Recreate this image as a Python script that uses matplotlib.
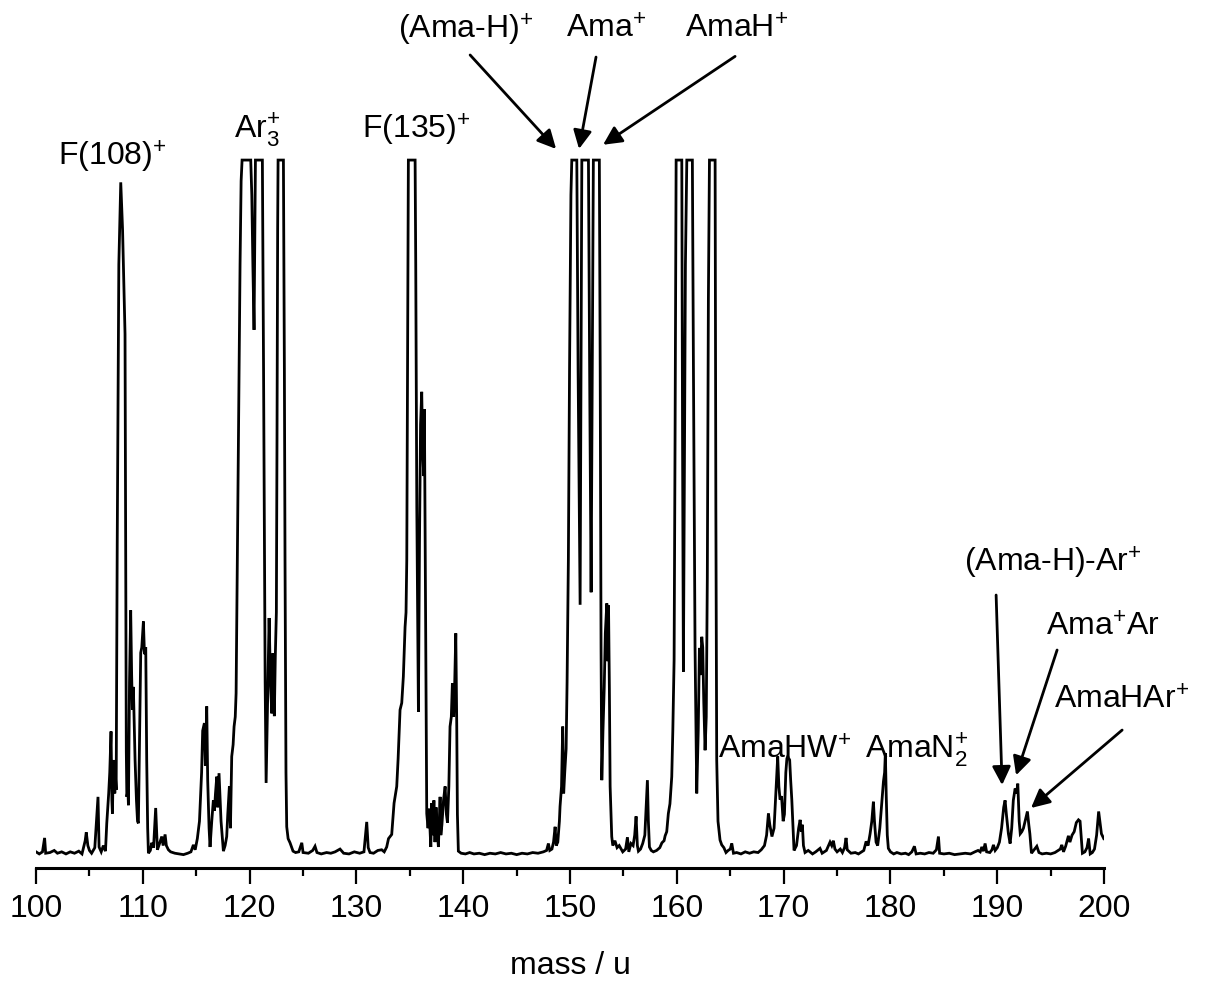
import numpy as np
import matplotlib
matplotlib.use("Agg")
import matplotlib.pyplot as plt

plt.rcParams['font.family'] = ['Liberation Sans', 'DejaVu Sans']
plt.rcParams['mathtext.fontset'] = 'custom'
plt.rcParams['mathtext.rm'] = 'Liberation Sans'
plt.rcParams['mathtext.it'] = 'Liberation Sans'
plt.rcParams['mathtext.bf'] = 'Liberation Sans:bold'

# spectrum (mass in u, signal in % of the clip level)
mass = [
    100.0, 100.3, 100.6, 100.8, 100.9, 101.3, 101.7, 102.0, 102.4, 102.8, 103.2, 103.6,
    104.0, 104.3, 104.6, 104.7, 104.85, 105.0, 105.2, 105.5, 105.8, 105.9, 106.1, 106.3,
    106.5, 106.62, 106.8, 106.9, 107.02, 107.1, 107.15, 107.24, 107.3, 107.37, 107.45, 107.5,
    107.6, 107.75, 107.93, 108.1, 108.25, 108.33, 108.4, 108.45, 108.5, 108.6, 108.65, 108.75,
    108.86, 108.95, 109.02, 109.11, 109.2, 109.27, 109.4, 109.5, 109.58, 109.7, 109.8, 109.9,
    110.05, 110.15, 110.27, 110.36, 110.45, 110.52, 110.7, 110.83, 111.0, 111.2, 111.36, 111.5,
    111.65, 111.77, 111.9, 112.08, 112.2, 112.39, 112.6, 113.0, 113.4, 113.8, 114.2, 114.5,
    114.73, 114.9, 115.1, 115.3, 115.5, 115.6, 115.76, 115.85, 115.98, 116.07, 116.2, 116.29,
    116.45, 116.6, 116.7, 116.8, 116.92, 117.0, 117.13, 117.32, 117.54, 117.7, 117.85, 117.95,
    118.1, 118.2, 118.32, 118.45, 118.54, 118.65, 118.73, 118.85, 118.95, 119.1, 119.2, 119.29,
    120.1, 120.2, 120.3, 120.41, 120.5, 120.54, 121.19, 121.3, 121.45, 121.54, 121.65, 121.82,
    121.95, 122.07, 122.16, 122.31, 122.4, 122.5, 122.56, 122.62, 122.66, 123.16, 123.25, 123.31,
    123.4, 123.47, 123.6, 123.78, 124.06, 124.3, 124.6, 124.88, 125.0, 125.5, 125.9, 126.12,
    126.3, 126.7, 127.2, 127.6, 128.0, 128.46, 128.8, 129.3, 129.8, 130.3, 130.7, 130.96,
    131.1, 131.27, 131.6, 132.0, 132.36, 132.6, 132.83, 133.0, 133.3, 133.52, 133.77, 133.9,
    134.08, 134.24, 134.39, 134.55, 134.64, 134.71, 134.78, 134.86, 135.49, 135.55, 135.65, 135.8,
    135.9, 136.0, 136.11, 136.2, 136.3, 136.36, 136.45, 136.58, 136.7, 136.8, 136.96, 137.05,
    137.15, 137.25, 137.35, 137.45, 137.55, 137.67, 137.83, 137.9, 138.0, 138.15, 138.3, 138.42,
    138.52, 138.65, 138.76, 138.88, 138.98, 139.1, 139.2, 139.3, 139.39, 139.45, 139.54, 139.8,
    140.2, 140.6, 141.0, 141.5, 142.0, 142.5, 143.0, 143.5, 144.0, 144.5, 145.0, 145.5,
    146.0, 146.5, 147.0, 147.5, 147.8, 147.97, 148.1, 148.3, 148.45, 148.6, 148.7, 148.85,
    149.0, 149.06, 149.2, 149.31, 149.4, 149.5, 149.63, 149.72, 149.84, 149.95, 150.08, 150.16,
    150.63, 150.75, 150.94, 151.02, 151.1, 151.72, 151.85, 151.97, 152.08, 152.18, 152.74, 152.82,
    152.9, 152.97, 153.08, 153.2, 153.3, 153.44, 153.52, 153.6, 153.68, 153.75, 153.9, 154.0,
    154.2, 154.4, 154.6, 154.93, 155.2, 155.37, 155.5, 155.7, 155.9, 156.05, 156.18, 156.3,
    156.4, 156.6, 156.8, 157.0, 157.15, 157.24, 157.33, 157.43, 157.6, 157.8, 158.1, 158.4,
    158.6, 158.8, 158.9, 159.05, 159.2, 159.35, 159.52, 159.62, 159.74, 159.83, 159.93, 160.46,
    160.53, 160.61, 160.7, 160.8, 160.93, 161.45, 161.55, 161.7, 161.86, 162.0, 162.11, 162.2,
    162.33, 162.42, 162.52, 162.64, 162.75, 162.85, 162.95, 163.05, 163.58, 163.65, 163.73, 163.85,
    164.04, 164.2, 164.4, 164.6, 164.8, 165.0, 165.14, 165.3, 165.6, 166.0, 166.4, 166.8,
    167.2, 167.6, 167.9, 168.2, 168.4, 168.57, 168.7, 168.9, 169.1, 169.3, 169.44, 169.55,
    169.66, 169.8, 169.95, 170.07, 170.2, 170.3, 170.38, 170.56, 170.65, 170.76, 170.97, 171.2,
    171.4, 171.54, 171.65, 171.75, 171.85, 172.0, 172.3, 172.7, 173.0, 173.4, 173.6, 174.0,
    174.2, 174.34, 174.5, 174.65, 174.8, 175.0, 175.3, 175.5, 175.7, 175.84, 175.95, 176.3,
    176.7, 177.0, 177.3, 177.5, 177.72, 177.9, 178.09, 178.25, 178.4, 178.5, 178.65, 178.8,
    179.0, 179.2, 179.34, 179.45, 179.52, 179.6, 179.7, 179.8, 180.0, 180.3, 180.6, 181.0,
    181.4, 181.7, 182.0, 182.24, 182.4, 182.8, 183.2, 183.6, 184.0, 184.3, 184.49, 184.6,
    185.0, 185.5, 186.0, 186.5, 187.0, 187.5, 187.9, 188.2, 188.4, 188.55, 188.7, 188.86,
    189.0, 189.3, 189.5, 189.64, 189.8, 190.0, 190.2, 190.4, 190.6, 190.73, 190.85, 191.04,
    191.2, 191.35, 191.5, 191.67, 191.8, 191.92, 192.05, 192.15, 192.3, 192.45, 192.6, 192.82,
    192.95, 193.05, 193.2, 193.4, 193.7, 193.9, 194.2, 194.6, 195.0, 195.4, 195.7, 195.9,
    196.04, 196.2, 196.4, 196.66, 196.8, 197.0, 197.2, 197.4, 197.6, 197.75, 197.97, 198.2,
    198.4, 198.55, 198.7, 198.9, 199.1, 199.3, 199.49, 199.6, 199.75, 199.97,
]
signal = [
    0.6, 0.3, 0.6, 2.6, 0.4, 0.5, 0.8, 0.4, 0.6, 0.3, 0.6, 0.4,
    0.7, 0.3, 2.2, 3.4, 1.5, 0.8, 0.4, 1.2, 8.5, 1.3, 0.6, 1.5,
    0.7, 4.7, 9.0, 12.0, 17.9, 8.0, 6.1, 13.8, 11.0, 9.0, 11.0, 9.5,
    45.0, 85.0, 96.8, 90.0, 80.0, 75.0, 40.0, 15.0, 8.5, 9.5, 7.3, 25.0,
    35.3, 26.0, 21.0, 24.3, 18.0, 13.8, 8.0, 5.0, 4.7, 18.0, 29.2, 30.0,
    33.7, 29.0, 30.0, 13.8, 4.0, 0.4, 0.8, 1.9, 1.2, 6.9, 0.9, 1.5,
    2.2, 2.8, 1.5, 3.1, 1.5, 0.9, 0.6, 0.4, 0.3, 0.2, 0.4, 0.6,
    1.6, 0.9, 2.5, 5.0, 12.0, 18.0, 19.1, 13.0, 21.5, 10.9, 4.0, 1.3,
    5.0, 8.0, 6.5, 9.0, 11.4, 7.0, 11.9, 5.0, 0.7, 1.5, 2.8, 6.0,
    10.0, 4.0, 14.3, 16.0, 18.6, 20.0, 23.4, 42.5, 60.0, 85.0, 97.0, 100.0,
    100.0, 95.0, 85.0, 75.6, 92.0, 100.0, 100.0, 70.0, 25.0, 10.5, 20.0, 34.2,
    25.0, 20.5, 29.1, 20.1, 28.7, 35.0, 60.0, 90.0, 100.0, 100.0, 70.0, 42.5,
    12.0, 4.2, 2.5, 1.9, 0.7, 0.5, 0.6, 1.9, 0.5, 0.4, 0.8, 1.4,
    0.5, 0.3, 0.5, 0.4, 0.6, 1.0, 0.4, 0.3, 0.6, 0.4, 0.6, 4.9,
    1.2, 0.5, 0.4, 0.8, 0.9, 0.6, 1.3, 2.5, 3.1, 7.6, 10.0, 14.0,
    21.0, 22.0, 25.8, 32.9, 35.0, 42.5, 70.0, 100.0, 100.0, 85.0, 50.0, 20.7,
    45.0, 62.0, 66.7, 58.0, 54.6, 64.2, 40.0, 6.1, 4.0, 6.8, 1.3, 7.6,
    3.0, 8.0, 2.0, 7.0, 4.0, 1.3, 8.5, 3.0, 4.5, 8.0, 10.0, 6.0,
    4.8, 10.0, 18.6, 20.0, 24.8, 20.0, 25.0, 32.0, 18.6, 6.0, 0.7, 0.4,
    0.3, 0.5, 0.3, 0.4, 0.2, 0.4, 0.3, 0.5, 0.3, 0.4, 0.2, 0.4,
    0.3, 0.5, 0.4, 0.6, 0.8, 1.8, 0.8, 1.0, 2.0, 4.2, 1.5, 2.0,
    5.0, 7.1, 10.0, 18.6, 9.0, 12.0, 15.4, 25.0, 42.5, 70.0, 95.0, 100.0,
    100.0, 70.0, 36.1, 70.0, 100.0, 100.0, 65.0, 37.9, 70.0, 100.0, 100.0, 70.0,
    30.0, 10.9, 18.0, 24.3, 32.0, 36.3, 28.0, 36.0, 24.0, 10.0, 2.8, 1.5,
    2.2, 1.2, 1.5, 0.6, 1.0, 2.7, 0.6, 1.8, 1.5, 3.0, 5.7, 1.5,
    0.7, 1.0, 1.8, 3.0, 8.0, 10.9, 5.0, 1.3, 0.8, 0.6, 0.8, 1.2,
    1.9, 2.2, 2.9, 3.5, 6.1, 7.5, 11.4, 18.0, 28.2, 60.0, 100.0, 100.0,
    60.0, 26.5, 55.0, 85.0, 100.0, 100.0, 70.0, 30.0, 9.0, 18.0, 29.9, 26.0,
    31.5, 30.0, 22.0, 15.2, 20.0, 40.0, 80.0, 100.0, 100.0, 50.0, 13.8, 5.0,
    2.3, 1.6, 1.2, 0.5, 0.8, 1.0, 1.8, 0.4, 0.5, 0.3, 0.6, 0.4,
    0.6, 0.5, 0.9, 1.5, 3.0, 6.1, 4.5, 2.8, 4.0, 10.0, 14.3, 10.0,
    8.1, 8.6, 5.0, 6.0, 12.0, 14.0, 14.3, 13.8, 11.0, 8.1, 0.8, 1.5,
    4.0, 5.2, 3.5, 4.5, 1.5, 0.5, 0.8, 0.3, 0.6, 1.1, 0.4, 0.8,
    1.5, 2.0, 1.5, 2.2, 1.0, 0.6, 1.0, 0.5, 1.2, 2.6, 0.9, 0.4,
    0.5, 0.3, 0.6, 0.8, 2.1, 1.5, 3.2, 5.0, 7.8, 5.0, 2.0, 1.5,
    4.0, 8.0, 10.7, 12.0, 14.8, 8.8, 3.0, 1.1, 0.6, 0.3, 0.5, 0.3,
    0.4, 0.2, 0.6, 1.4, 0.3, 0.4, 0.3, 0.5, 0.4, 0.9, 2.8, 0.4,
    0.3, 0.4, 0.2, 0.3, 0.4, 0.3, 0.6, 0.8, 0.6, 1.3, 0.7, 1.8,
    0.6, 0.5, 0.9, 1.6, 0.8, 1.2, 2.0, 4.0, 7.0, 8.0, 6.0, 3.2,
    1.8, 4.0, 8.0, 9.7, 9.0, 10.4, 5.0, 3.2, 3.5, 4.0, 5.0, 6.4,
    4.5, 3.2, 0.4, 0.8, 1.4, 0.5, 0.3, 0.4, 0.3, 0.5, 0.8, 1.0,
    1.6, 0.6, 1.4, 2.9, 2.0, 3.0, 3.5, 4.8, 5.2, 5.0, 0.4, 0.6,
    1.2, 2.5, 0.3, 0.5, 1.0, 3.0, 6.4, 5.0, 3.2, 2.5,
]

x_ticks = [100, 110, 120, 130, 140, 150, 160, 170, 180, 190, 200]

labels = [
    r"F(108)$^{+}$", r"Ar$_{\mathrm{3}}^{+}$", r"F(135)$^{+}$",
    r"(Ama-H)$^{+}$", r"Ama$^{+}$", r"AmaH$^{+}$",
    r"AmaHW$^{+}$", r"AmaN$_{\mathrm{2}}^{+}$",
    r"(Ama-H)-Ar$^{+}$", r"Ama$^{+}$Ar", r"AmaHAr$^{+}$",
]

fig = plt.figure(figsize=(12.06, 9.81), dpi=100)
ax = fig.add_axes([0.0299, 0.1152, 0.8856, 0.8848])

ax.plot(mass, signal, color='black', lw=2.0, solid_joinstyle='miter')

ax.set_xlim(100, 200)
ax.set_ylim(-1.72, 123)
ax.set_xticks(x_ticks)
ax.set_xticks(np.arange(105, 200, 10), minor=True)
ax.tick_params(axis='x', which='major', direction='out', length=11.5, width=1.6,
               labelsize=23, pad=7)
ax.tick_params(axis='x', which='minor', direction='out', length=6, width=1.6)
ax.set_yticks([])
for side in ['left', 'right', 'top']:
    ax.spines[side].set_visible(False)
ax.spines['bottom'].set_linewidth(2.2)
ax.set_xlabel("mass / u", fontsize=23, labelpad=20)

# label positions (mass, signal)
label_pos = [
    (107.12, 100.5), (120.69, 104.3), (135.6, 104.3),
    (140.17, 118.7), (153.38, 118.7), (165.55, 118.7),
    (170.13, 15.2), (182.4, 15.2),
    (195.2, 42.1), (199.9, 32.8), (201.6, 22.4),
]
for txt, (lx, ly) in zip(labels, label_pos):
    ax.text(lx, ly, txt, fontsize=23, ha='center', va='center', clip_on=False)

arrows = [
    ((140.64, 115.1), (148.69, 101.6)),
    ((152.43, 114.8), (150.84, 101.6)),
    ((165.45, 114.9), (153.09, 102.2)),
    ((189.89, 37.5), (190.45, 10.2)),
    ((195.6, 29.6), (191.76, 11.6)),
    ((201.69, 18.1), (193.16, 6.9)),
]
for start, tip in arrows:
    ax.annotate("", xy=tip, xytext=start, annotation_clip=False,
                arrowprops=dict(arrowstyle='-|>', color='black', lw=2.0,
                                mutation_scale=28, shrinkA=0, shrinkB=0))

fig.savefig("out.png", dpi=100)
